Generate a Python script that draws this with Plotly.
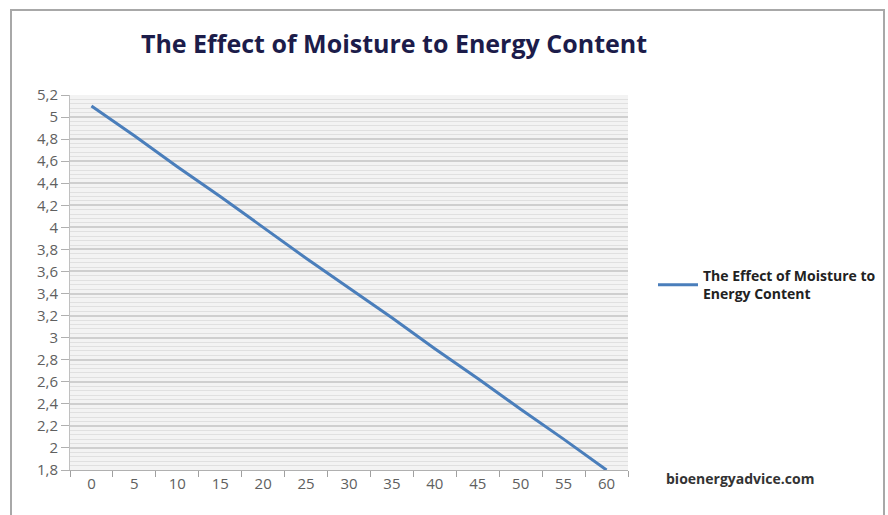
import plotly.graph_objects as go

# Moisture content (%) and the resulting energy content
moisture = ["0", "5", "10", "15", "20", "25", "30", "35", "40", "45", "50", "55", "60"]
energy = [5.1, 4.83, 4.55, 4.28, 4.0, 3.72, 3.45, 3.18, 2.9, 2.63, 2.35, 2.08, 1.8]

y_ticks = [1.8, 2.0, 2.2, 2.4, 2.6, 2.8, 3.0, 3.2, 3.4, 3.6, 3.8, 4.0, 4.2, 4.4, 4.6, 4.8, 5.0, 5.2]
y_tick_text = ["1,8", "2", "2,2", "2,4", "2,6", "2,8", "3", "3,2", "3,4", "3,6",
               "3,8", "4", "4,2", "4,4", "4,6", "4,8", "5", "5,2"]

series_name = "<b>The Effect of Moisture to<br>Energy Content</b>"
title_text = "The Effect of Moisture to Energy Content"
source_text = "bioenergyadvice.com"

W, H = 888, 515
L, R, T, B = 70, 260, 95, 45
pw, ph = W - L - R, H - T - B


def px_x(p):
    return (p - L) / pw


def px_y(p):
    return (H - B - p) / ph


fig = go.Figure()
fig.add_trace(go.Scatter(
    x=moisture, y=energy, mode="lines", name=series_name,
    line=dict(color="#4a7ebb", width=3),
))

fig.update_layout(
    width=W, height=H,
    margin=dict(l=L, r=R, t=T, b=B, autoexpand=False),
    paper_bgcolor="white",
    plot_bgcolor="#f3f3f3",
    font=dict(family="Open Sans, sans-serif", color="#595959"),
    title=dict(
        text="<b>" + title_text + "</b>",
        x=px_x(394), xref="paper", xanchor="center",
        y=1 - 44 / H, yref="container", yanchor="middle",
        font=dict(size=25, color="#1c1c4a", family="Open Sans, sans-serif"),
    ),
    showlegend=True,
    legend=dict(
        x=px_x(653), xanchor="left", y=px_y(285), yanchor="middle",
        bgcolor="rgba(0,0,0,0)",
        font=dict(size=14, color="#222222", family="Open Sans, sans-serif"),
        itemwidth=40,
    ),
    xaxis=dict(
        type="category",
        categoryorder="array", categoryarray=moisture,
        tickson="boundaries",
        ticks="outside", ticklen=6, tickcolor="#a0a0a0",
        showline=True, linecolor="#b0b0b0", linewidth=1,
        showgrid=False, zeroline=False,
        tickfont=dict(size=15, color="#606060"),
        range=[-0.5, 12.5],
    ),
    yaxis=dict(
        range=[1.8, 5.2],
        tickvals=y_ticks, ticktext=y_tick_text,
        ticks="outside", ticklen=8, tickcolor="#b0b0b0",
        showline=True, linecolor="#c0c0c0", linewidth=1,
        showgrid=True, gridcolor="#cfcfcf", gridwidth=1.5,
        zeroline=False,
        minor=dict(dtick=0.04, showgrid=True, gridcolor="#e0e0e0", gridwidth=1),
        tickfont=dict(size=15, color="#606060"),
    ),
)

# Watermark with the data source
fig.add_annotation(
    text="<b>" + source_text + "</b>",
    xref="paper", yref="paper",
    x=px_x(664), y=px_y(478), xanchor="left", yanchor="middle",
    showarrow=False,
    font=dict(size=14, color="#333333", family="Open Sans, sans-serif"),
)

# Outer chart frame
fig.add_shape(
    type="rect", xref="paper", yref="paper",
    x0=px_x(11), x1=px_x(884), y0=px_y(525), y1=px_y(10),
    line=dict(color="#a8a8a8", width=2), fillcolor="rgba(0,0,0,0)",
    layer="below",
)

fig.write_html("out.html")
